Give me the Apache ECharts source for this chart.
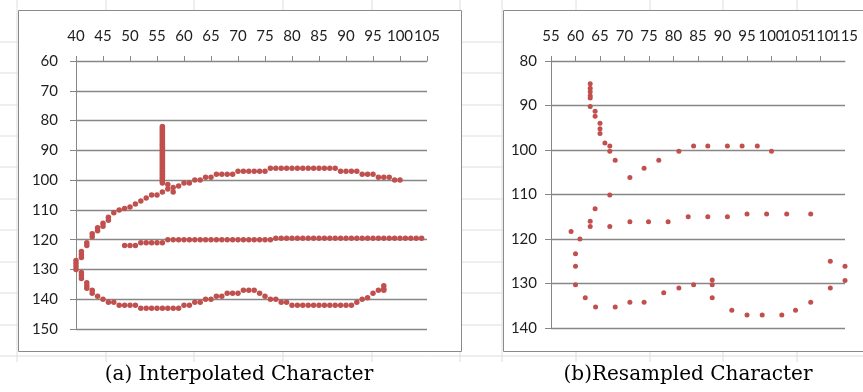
<!DOCTYPE html>
<html>
<head>
<meta charset="utf-8">
<script src="https://cdn.jsdelivr.net/npm/echarts@6/dist/echarts.min.js"></script>
<style>
  html, body { margin: 0; padding: 0; background: #fff; }
  #chart { width: 863px; height: 392px; }
</style>
</head>
<body>
<div id="chart"></div>
<script>
// (a) interpolated character, one array per stroke, [x, y]
var strokeVertical = [
  [56, 82], [56, 82.5], [56, 83], [56, 83.5], [56, 84], [56, 84.5], [56, 85], [56, 85.5], [56, 86],
  [56, 86.5], [56, 87], [56, 87.5], [56, 88], [56, 88.5], [56, 89], [56, 89.5], [56, 90], [56, 90.5],
  [56, 91], [56, 91.5], [56, 92], [56, 92.5], [56, 93], [56, 93.5], [56, 94], [56, 94.5], [56, 95],
  [56, 95.5], [56, 96], [56, 96.5], [56, 97], [56, 97.5], [56, 98], [56, 98.5], [56, 99], [56, 99.5],
  [56, 100], [56, 100.5], [56, 101]
];
var strokeUpper = [
  [40, 127], [40, 128], [41, 124], [41, 125], [41, 126], [42, 121], [42, 122], [43, 118], [43, 119],
  [44, 116], [44, 117], [45, 114.5], [45, 115.5], [46, 112.5], [46, 113.5], [47, 111], [48, 110],
  [49, 109.5], [50, 109], [51, 108], [52, 107], [53, 106], [54, 105], [55, 105], [56, 104],
  [57, 101.5], [57, 103], [58, 104], [58, 102.5], [59, 102], [60, 101], [61, 101], [62, 100], [63, 100],
  [64, 99], [65, 99], [66, 98], [67, 98], [68, 98], [69, 98], [70, 97], [71, 97], [72, 97], [73, 97],
  [74, 97], [75, 97], [76, 96], [77, 96], [78, 96], [79, 96], [80, 96], [81, 96], [82, 96], [83, 96],
  [84, 96], [85, 96], [86, 96], [87, 96], [88, 96], [89, 97], [90, 97], [91, 97], [92, 97], [93, 98],
  [94, 98], [95, 98], [96, 99], [97, 99], [98, 99], [99, 100], [100, 100]
];
var strokeMiddle = [
  [49, 122], [50, 122], [51, 122], [52, 121], [53, 121], [54, 121], [55, 121], [56, 121],
  [57, 120], [58, 120], [59, 120], [60, 120], [61, 120], [62, 120], [63, 120], [64, 120], [65, 120],
  [66, 120], [67, 120], [68, 120], [69, 120], [70, 120], [71, 120], [72, 120], [73, 120], [74, 120],
  [75, 120], [76, 120], [77, 119.5], [78, 119.5], [79, 119.5], [80, 119.5], [81, 119.5], [82, 119.5],
  [83, 119.5], [84, 119.5], [85, 119.5], [86, 119.5], [87, 119.5], [88, 119.5], [89, 119.5], [90, 119.5],
  [91, 119.5], [92, 119.5], [93, 119.5], [94, 119.5], [95, 119.5], [96, 119.5], [97, 119.5], [98, 119.5],
  [99, 119.5], [100, 119.5], [101, 119.5], [102, 119.5], [103, 119.5], [104, 119.5]
];
var strokeLower = [
  [40, 129], [40, 130], [41, 131], [41, 132], [41, 133], [42, 134.5], [42, 135.5], [42, 136.3],
  [43, 137], [43, 138], [44, 139], [45, 140], [46, 141], [47, 141], [48, 142], [49, 142], [50, 142],
  [51, 142], [52, 143], [53, 143], [54, 143], [55, 143], [56, 143], [57, 143], [58, 143], [59, 143],
  [60, 142], [61, 142], [62, 141], [63, 141], [64, 140], [65, 140], [66, 139], [67, 139], [68, 138],
  [69, 138], [70, 138], [71, 137], [72, 137], [73, 137], [74, 138], [75, 139], [76, 140], [77, 140],
  [78, 141], [79, 141], [80, 142], [81, 142], [82, 142], [83, 142], [84, 142], [85, 142], [86, 142],
  [87, 142], [88, 142], [89, 142], [90, 142], [91, 142], [92, 141], [93, 140], [94, 139.5], [95, 138],
  [96, 137], [97, 136.5], [97, 135.5], [97, 137]
];

// (b) resampled character
var resampled = [
  [63, 85.1], [63, 86.1], [63, 86.9], [63, 87.8], [63, 88.3], [63, 90.2], [64, 91.3], [64, 92.4],
  [65, 94], [65, 95.2], [65, 96.3], [66, 98.4], [67, 99.1], [67, 100.3], [68.1, 102.3], [71.1, 106.2],
  [74, 104.1], [77, 102.3], [81.1, 100.3], [84.1, 99.1], [87, 99.1], [91, 99.1], [94, 99.1],
  [97.1, 99.1], [100, 100.3], [67, 110.1], [64, 113.2], [63, 116], [63, 117.2], [67, 117.2],
  [71.1, 116.1], [74.9, 116.1], [78.9, 116.1], [83, 115], [87, 115], [91, 115], [95, 114.4],
  [99, 114.4], [103.1, 114.4], [108, 114.4], [59.1, 118.3], [60.9, 120], [60, 123.3], [60, 126.1],
  [60, 130.3], [62, 133.2], [64.1, 135.3], [68.1, 135.3], [71.1, 134.2], [74, 134.2], [78, 132.1],
  [81.1, 131], [84.1, 130.3], [87.9, 129.2], [87.9, 130.3], [87.9, 133.2], [91.9, 136], [95, 137.1],
  [98.1, 137.1], [102.1, 137.1], [104.9, 136], [108, 134.2], [112, 131], [112, 125], [115, 126.1],
  [115, 129.3]
];

var captions = ['(a) Interpolated Character', '(b)Resampled Character'];

// spreadsheet cell lines behind the chart boxes
var sheetRows = [42, 73, 105, 136, 167, 199, 230, 262, 293, 325, 356];
var sheetCols = [17, 106, 194, 283, 372, 460, 502, 576, 650, 723, 797];

var gridColor = '#878787';
var dotColor = '#c0504d';
var labelFont = 'Lato';
var labelStyle = { fontSize: 15, color: '#1e1e1e', fontFamily: labelFont };

function xAxisOf(idx, min, max, showMax) {
  return {
    gridIndex: idx, type: 'value', position: 'top', min: min, max: max, interval: 5,
    axisLine: { show: true, onZero: false, lineStyle: { color: gridColor, width: 1 } },
    axisTick: { show: true, length: 5, lineStyle: { color: gridColor } },
    axisLabel: Object.assign({ margin: 17, showMinLabel: true, showMaxLabel: showMax, hideOverlap: false }, labelStyle),
    splitLine: { show: false }
  };
}
// extra axis that only carries the last label, so Excel's overlapping "110115" stays visible
function maxLabelAxis(idx, min, max) {
  return {
    gridIndex: idx, type: 'value', position: 'top', min: min, max: max, interval: 5,
    axisLine: { show: false }, axisTick: { show: false }, splitLine: { show: false },
    axisLabel: Object.assign({
      margin: 17, showMinLabel: false, showMaxLabel: true, hideOverlap: false,
      formatter: function (v) { return v === max ? String(v) : ''; }
    }, labelStyle)
  };
}
function yAxisOf(idx, min, max, margin) {
  return {
    gridIndex: idx, type: 'value', inverse: true, min: min, max: max, interval: 10,
    axisLine: { show: true, onZero: false, lineStyle: { color: gridColor, width: 1 } },
    axisTick: { show: true, length: 6, lineStyle: { color: gridColor } },
    axisLabel: Object.assign({ margin: margin }, labelStyle),
    splitLine: { show: true, lineStyle: { color: gridColor, width: 1.3 } }
  };
}
function dots(name, data, idx, size) {
  return {
    name: name, type: 'scatter', xAxisIndex: idx, yAxisIndex: idx, data: data,
    symbolSize: size, itemStyle: { color: dotColor, opacity: 1 }, clip: false, silent: true
  };
}

var bg = [];
sheetRows.forEach(function (y) {
  bg.push({ type: 'line', shape: { x1: 0, y1: y, x2: 863, y2: y }, style: { stroke: '#dedede', lineWidth: 1 }, z: -10 });
});
sheetCols.forEach(function (x) {
  bg.push({ type: 'line', shape: { x1: x, y1: 0, x2: x, y2: 362 }, style: { stroke: '#dedede', lineWidth: 1 }, z: -10 });
});
bg.push({ type: 'rect', shape: { x: 0, y: 362, width: 863, height: 30 }, style: { fill: '#fff' }, z: -5 });
bg.push({ type: 'rect', shape: { x: 18.5, y: 10.5, width: 443, height: 341 }, style: { fill: '#fff', stroke: '#8a8a8a', lineWidth: 1 }, z: -1 });
bg.push({ type: 'rect', shape: { x: 503.5, y: 10.5, width: 380, height: 341 }, style: { fill: '#fff', stroke: '#8a8a8a', lineWidth: 1 }, z: -1 });
bg.push({ type: 'text', x: 239, y: 375, style: { text: captions[0], fontSize: 20, fontFamily: 'DejaVu Serif', fill: '#000', align: 'center', verticalAlign: 'middle' }, z: 5 });
bg.push({ type: 'text', x: 688, y: 375, style: { text: captions[1], fontSize: 20, fontFamily: 'DejaVu Serif', fill: '#000', align: 'center', verticalAlign: 'middle' }, z: 5 });

var myChart = echarts.init(document.getElementById('chart'), null, { renderer: 'canvas' });
myChart.setOption({
  animation: false,
  backgroundColor: '#fff',
  graphic: bg,
  grid: [
    { left: 76, top: 61, width: 351, height: 268, containLabel: false },
    { left: 551, top: 61, width: 294, height: 267, containLabel: false }
  ],
  xAxis: [xAxisOf(0, 40, 105, true), xAxisOf(1, 55, 115, false), maxLabelAxis(1, 55, 115)],
  yAxis: [yAxisOf(0, 60, 150, 18), yAxisOf(1, 80, 140, 14)],
  series: [
    dots('vertical', strokeVertical, 0, 5.5),
    dots('upper', strokeUpper, 0, 5.5),
    dots('middle', strokeMiddle, 0, 5.5),
    dots('lower', strokeLower, 0, 5.5),
    dots('resampled', resampled, 1, 5)
  ]
});
</script>
</body>
</html>
